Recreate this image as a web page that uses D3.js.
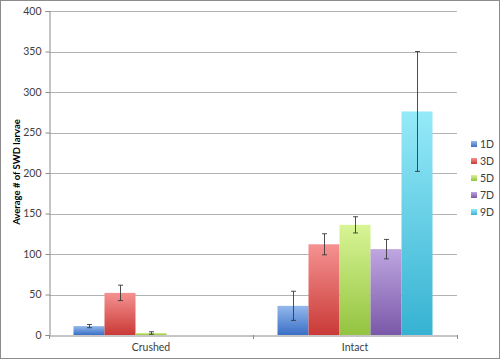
<!DOCTYPE html>
<html>
<head>
<meta charset="utf-8">
<script src="https://cdn.jsdelivr.net/npm/d3@7"></script>
<style>
  body { margin: 0; background: #fff; }
  text { font-family: Lato, "Open Sans", sans-serif; fill: #404040; }
</style>
</head>
<body>
<div id="chart"></div>
<script>
const WIDTH = 500;
const HEIGHT = 359;

const categories = ['Crushed', 'Intact'];
const series = ['1D', '3D', '5D', '7D', '9D'];
const crushedValues = [11, 52, 2.5, 0, 0];
const crushedErrors = [2, 9.5, 1.5, 0, 0];
const intactValues = [36, 112, 136, 106, 276];
const intactErrors = [18, 13, 10, 12, 74];
const yTicks = [0, 50, 100, 150, 200, 250, 300, 350, 400];

const colors = {
  '1D': ['#93b8ec', '#3b6fc6'],
  '3D': ['#f59291', '#c93a37'],
  '5D': ['#d8f595', '#93c33f'],
  '7D': ['#bea6e0', '#7a58a8'],
  '9D': ['#95eaf8', '#36b2d2']
};

const rows = [
  { key: 'Crushed', values: crushedValues, errors: crushedErrors },
  { key: 'Intact', values: intactValues, errors: intactErrors }
];

const margin = { left: 49, right: 43, top: 11, bottom: 24 };

const svg = d3.select('#chart')
  .append('svg')
  .attr('width', WIDTH)
  .attr('height', HEIGHT);

// outer frame
svg.append('rect')
  .attr('x', 0.5).attr('y', 0.5)
  .attr('width', WIDTH - 1).attr('height', HEIGHT - 1)
  .attr('fill', '#fff')
  .attr('stroke', '#8c8c8c');

const defs = svg.append('defs');
series.forEach(s => {
  const g = defs.append('linearGradient')
    .attr('id', 'grad' + s)
    .attr('x1', 0).attr('y1', 0).attr('x2', 0).attr('y2', 1);
  g.append('stop').attr('offset', '0%').attr('stop-color', colors[s][0]);
  g.append('stop').attr('offset', '100%').attr('stop-color', colors[s][1]);
});

const xScale = d3.scaleBand()
  .domain(categories)
  .range([margin.left, WIDTH - margin.right]);

const xInner = d3.scaleBand()
  .domain(series)
  .range([0, xScale.bandwidth()])
  .paddingOuter(0.79);

const yScale = d3.scaleLinear()
  .domain([0, 400])
  .range([HEIGHT - margin.bottom, margin.top]);

// gridlines
svg.append('g')
  .selectAll('line')
  .data(yTicks.slice(1))
  .enter()
  .append('line')
  .attr('x1', margin.left)
  .attr('x2', WIDTH - margin.right)
  .attr('y1', d => Math.round(yScale(d)) + 0.5)
  .attr('y2', d => Math.round(yScale(d)) + 0.5)
  .attr('stroke', '#b3b3b3');

// y axis
const yAxis = svg.append('g')
  .attr('transform', `translate(${margin.left + 0.5},0)`)
  .call(d3.axisLeft(yScale).tickValues(yTicks).tickSize(4).tickPadding(4));
yAxis.select('.domain').attr('stroke', '#8c8c8c');
yAxis.selectAll('.tick line').attr('stroke', '#8c8c8c');
yAxis.selectAll('.tick text')
  .style('font-size', '10.5px')
  .style('fill', '#404040');

svg.append('text')
  .attr('transform', `translate(20,172) rotate(-90)`)
  .attr('text-anchor', 'middle')
  .style('font-size', '9.5px')
  .style('font-weight', 'bold')
  .style('fill', '#000')
  .text('Average # of SWD larvae');

// bars
const groups = svg.selectAll('g.cat')
  .data(rows)
  .enter()
  .append('g')
  .attr('class', 'cat')
  .attr('transform', d => `translate(${xScale(d.key)},0)`);

const items = groups.selectAll('g.bar')
  .data(d => series.map((s, i) => ({ s, v: d.values[i], e: d.errors[i] })))
  .enter()
  .append('g')
  .attr('class', 'bar');

items.filter(d => d.v > 0)
  .append('rect')
  .attr('x', d => xInner(d.s))
  .attr('width', xInner.bandwidth())
  .attr('y', d => yScale(d.v))
  .attr('height', d => yScale(0) - yScale(d.v))
  .attr('fill', d => `url(#grad${d.s})`);

const err = items.filter(d => d.v > 0).append('g')
  .attr('stroke', '#3a3a3a')
  .attr('stroke-width', 0.9);
const cx = d => Math.round(xInner(d.s) + xInner.bandwidth() / 2) + 0.5;
err.append('line')
  .attr('x1', cx).attr('x2', cx)
  .attr('y1', d => yScale(d.v + d.e))
  .attr('y2', d => yScale(Math.max(0, d.v - d.e)));
err.append('line')
  .attr('x1', d => cx(d) - 2.5).attr('x2', d => cx(d) + 2.5)
  .attr('y1', d => yScale(d.v + d.e)).attr('y2', d => yScale(d.v + d.e));
err.append('line')
  .attr('x1', d => cx(d) - 2.5).attr('x2', d => cx(d) + 2.5)
  .attr('y1', d => yScale(Math.max(0, d.v - d.e))).attr('y2', d => yScale(Math.max(0, d.v - d.e)));

// x axis
const xAxis = svg.append('g')
  .attr('transform', `translate(0,${Math.round(yScale(0)) + 0.5})`)
  .call(d3.axisBottom(xScale).tickSize(0).tickPadding(8));
xAxis.select('.domain').attr('stroke', '#8c8c8c');
xAxis.selectAll('.tick text')
  .style('font-size', '10.5px')
  .style('fill', '#404040');
svg.append('g')
  .selectAll('line')
  .data([margin.left, xScale('Intact'), WIDTH - margin.right])
  .enter()
  .append('line')
  .attr('x1', d => Math.round(d) + 0.5).attr('x2', d => Math.round(d) + 0.5)
  .attr('y1', Math.round(yScale(0)))
  .attr('y2', Math.round(yScale(0)) + 4)
  .attr('stroke', '#8c8c8c');

// legend
const legend = svg.selectAll('g.legend')
  .data(series)
  .enter()
  .append('g')
  .attr('class', 'legend')
  .attr('transform', (d, i) => `translate(471,${141 + i * 17})`);
legend.append('rect')
  .attr('width', 6).attr('height', 6)
  .attr('fill', d => `url(#grad${d})`);
legend.append('text')
  .attr('x', 9).attr('y', 6.5)
  .style('font-size', '10.5px')
  .text(d => d);
</script>
</body>
</html>
